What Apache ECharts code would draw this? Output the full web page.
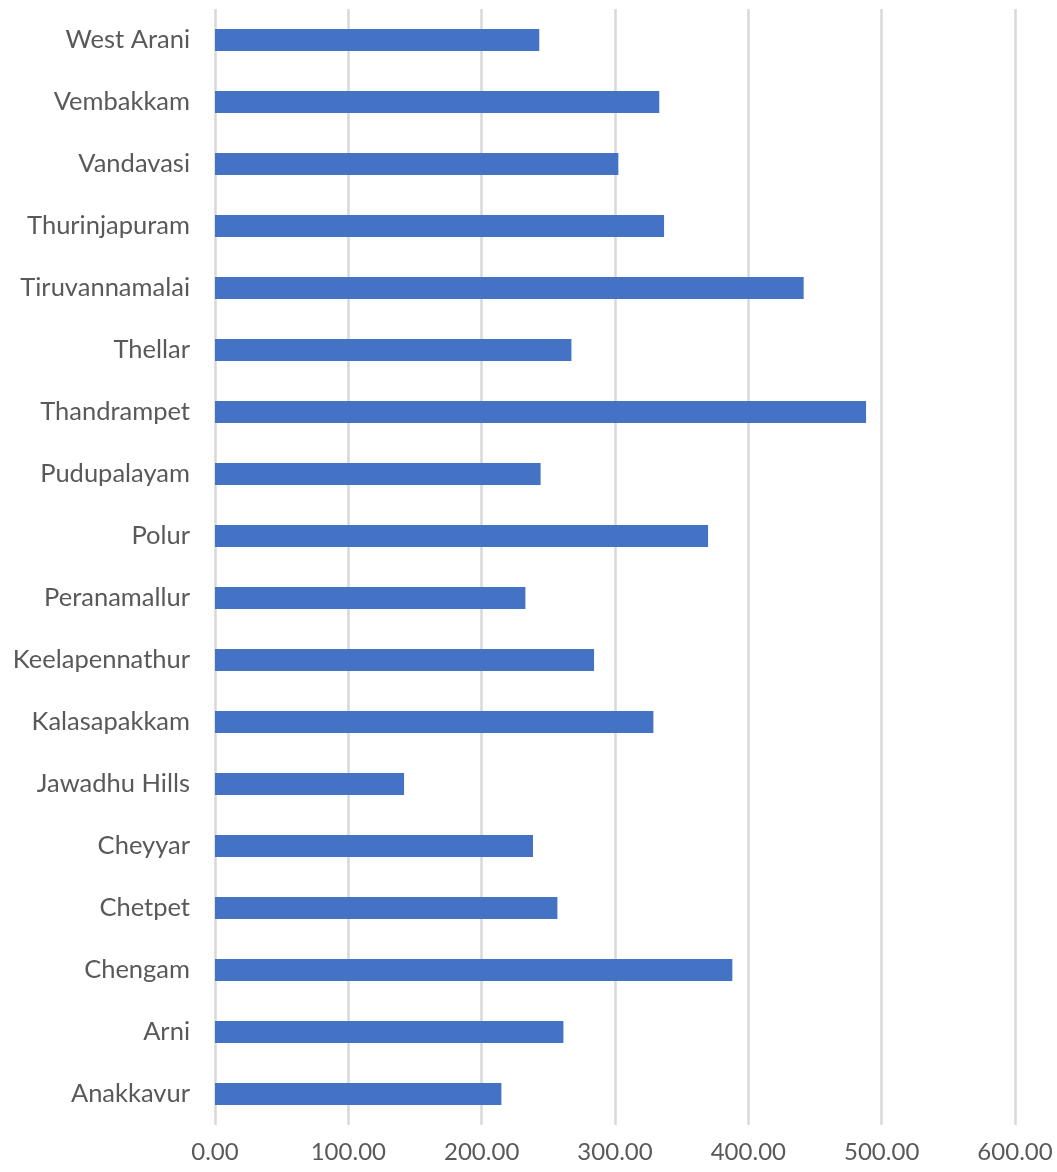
<!DOCTYPE html>
<html>
<head>
<meta charset="utf-8">
<script src="https://cdn.jsdelivr.net/npm/echarts@6/dist/echarts.min.js"></script>
<style>html,body{margin:0;padding:0;background:#fff;}#c{width:1057px;height:1172px;}</style>
</head>
<body>
<div id="c"></div>
<script>
const categories = ["Anakkavur","Arni","Chengam","Chetpet","Cheyyar","Jawadhu Hills","Kalasapakkam","Keelapennathur","Peranamallur","Polur","Pudupalayam","Thandrampet","Thellar","Tiruvannamalai","Thurinjapuram","Vandavasi","Vembakkam","West Arani"];
const values = [214.8, 261.3, 388.0, 256.8, 238.5, 141.8, 328.8, 284.3, 232.8, 369.8, 244.2, 488.3, 267.3, 441.5, 336.8, 302.5, 333.2, 243.2];
const axisMin = 0, axisMax = 600, axisStep = 100;

const chart = echarts.init(document.getElementById('c'), null, {renderer:'canvas'});
chart.setOption({
  animation: false,
  backgroundColor: '#ffffff',
  grid: {left: 215, right: 42, top: 9, bottom: 47, containLabel: false},
  xAxis: {
    type: 'value', min: axisMin, max: axisMax, interval: axisStep,
    axisLine: {show: false}, axisTick: {show: false},
    splitLine: {show: true, lineStyle: {color: '#d9d9d9', width: 2.5}},
    axisLabel: {color: '#595959', fontSize: 24, fontFamily: 'Lato', margin: 15,
      formatter: v => v.toFixed(2)}
  },
  yAxis: {
    type: 'category', data: categories,
    axisLine: {show: false}, axisTick: {show: false},
    axisLabel: {color: '#595959', fontSize: 25.5, fontFamily: 'Lato', margin: 25}
  },
  series: [{
    type: 'bar', data: values, barWidth: 22,
    itemStyle: {color: '#4472C4'}
  }]
});
</script>
</body>
</html>
